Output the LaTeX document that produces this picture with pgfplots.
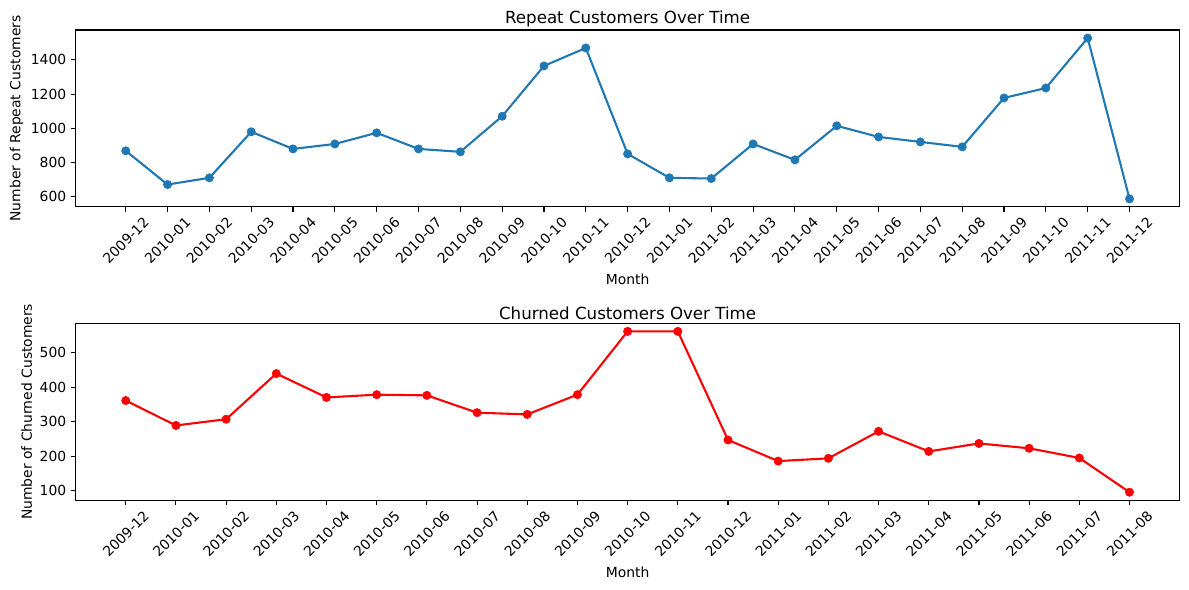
\documentclass[border=0pt]{standalone}
\usepackage{fontspec}
\setmainfont{DejaVu Sans}
\usepackage{pgfplots}
\pgfplotsset{compat=1.18}
\definecolor{mplblue}{HTML}{1F77B4}
\newcommand{\rl}[1]{\rotatebox{45}{#1}}
\pgfplotsset{
  mystyle/.style={
    scale only axis,
    width=795pt, height=127.4pt,
    axis line style={line width=0.8pt},
    tick style={line width=0.8pt, black},
    major tick length=3.5pt,
    tick align=outside,
    xtick pos=bottom, ytick pos=left,
    xtick=data,
    /pgf/number format/assume math mode=true,
    /pgf/number format/1000 sep={},
    ticklabel style={font=\fontsize{10}{12}\selectfont},
    label style={font=\fontsize{10}{12}\selectfont},
    title style={font=\fontsize{12}{14.4}\selectfont, yshift=-7pt},
    xticklabel style={anchor=north, inner sep=1pt, yshift=-2pt},
    yticklabel style={inner sep=2pt, xshift=-1pt},
    xlabel={Month},
    xlabel style={yshift=-2pt},
  }
}
\begin{document}
\begin{tikzpicture}
\useasboundingbox (-54.4pt,-275.8pt) rectangle (801.7pt,149pt);
\begin{axis}[mystyle,
  title={Repeat Customers Over Time},
  ylabel={Number of Repeat Customers},
  xmin=-1.2, xmax=25.2, ymin=541, ymax=1575,
  ytick={600,800,1000,1200,1400},
  xticklabels={\rl{2009-12},\rl{2010-01},\rl{2010-02},\rl{2010-03},\rl{2010-04},\rl{2010-05},\rl{2010-06},\rl{2010-07},\rl{2010-08},\rl{2010-09},\rl{2010-10},\rl{2010-11},\rl{2010-12},\rl{2011-01},\rl{2011-02},\rl{2011-03},\rl{2011-04},\rl{2011-05},\rl{2011-06},\rl{2011-07},\rl{2011-08},\rl{2011-09},\rl{2011-10},\rl{2011-11},\rl{2011-12}},
]
\addplot[mplblue, line width=1.5pt, mark=*, mark size=3pt, mark options={fill=mplblue, draw=mplblue, line width=0.4pt, solid}] coordinates {
(0,869) (1,672) (2,711) (3,980) (4,880) (5,909) (6,974) (7,880) (8,863) (9,1071) (10,1365) (11,1470) (12,851) (13,711) (14,707) (15,909) (16,816) (17,1015) (18,950) (19,921) (20,892) (21,1178) (22,1236) (23,1528) (24,588)
};
\end{axis}
\begin{axis}[mystyle, at={(0pt,-211.2pt)},
  title={Churned Customers Over Time},
  ylabel={Number of Churned Customers},
  xmin=-1, xmax=21, ymin=72.75, ymax=584.25,
  ytick={100,200,300,400,500},
  xticklabels={\rl{2009-12},\rl{2010-01},\rl{2010-02},\rl{2010-03},\rl{2010-04},\rl{2010-05},\rl{2010-06},\rl{2010-07},\rl{2010-08},\rl{2010-09},\rl{2010-10},\rl{2010-11},\rl{2010-12},\rl{2011-01},\rl{2011-02},\rl{2011-03},\rl{2011-04},\rl{2011-05},\rl{2011-06},\rl{2011-07},\rl{2011-08}},
]
\addplot[red, line width=1.5pt, mark=*, mark size=3pt, mark options={fill=red, draw=red, line width=0.4pt, solid}] coordinates {
(0,361) (1,289) (2,307) (3,439) (4,370) (5,378) (6,376) (7,326) (8,321) (9,378) (10,561) (11,561) (12,247) (13,186) (14,194) (15,272) (16,214) (17,237) (18,223) (19,195) (20,96)
};
\end{axis}
\end{tikzpicture}
\end{document}
